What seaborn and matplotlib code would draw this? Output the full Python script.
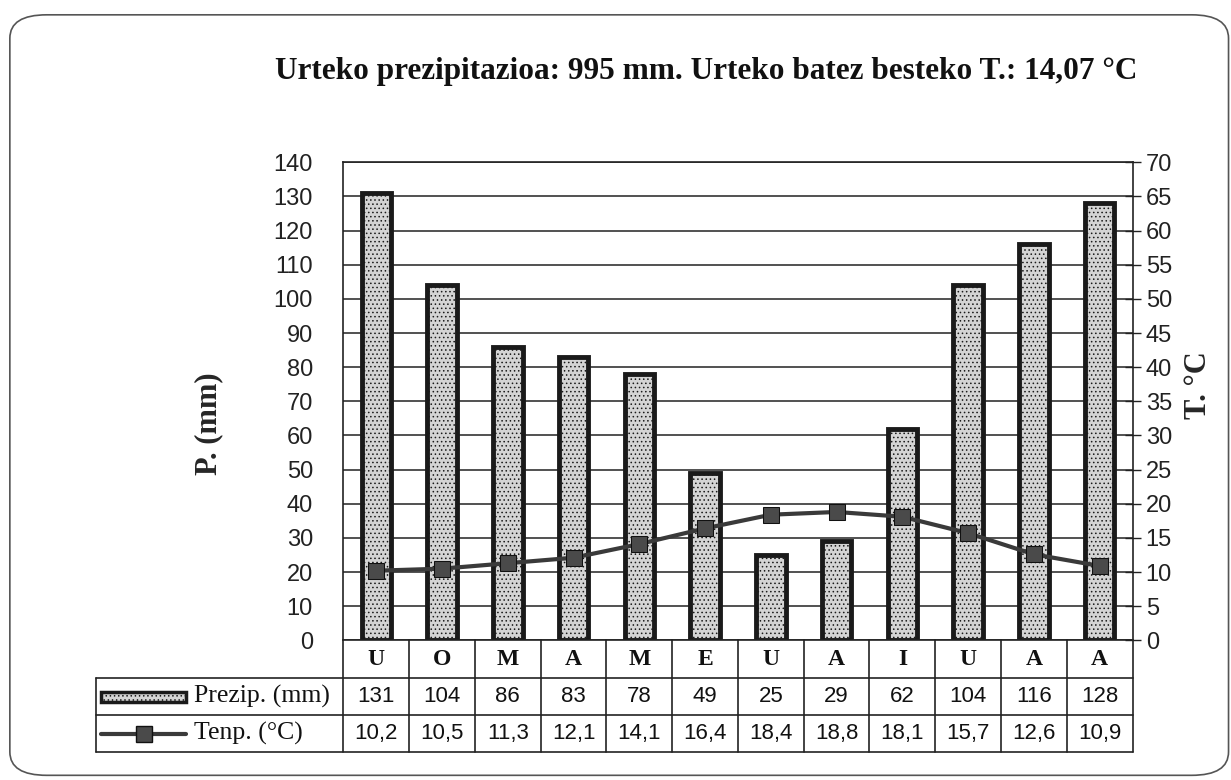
import numpy as np
import pandas as pd
import matplotlib
matplotlib.use("Agg")
import matplotlib.pyplot as plt
from matplotlib.patches import FancyBboxPatch, Rectangle
from matplotlib.lines import Line2D
import seaborn as sns

# Klima-diagrama: hileko prezipitazioa eta tenperatura
months = ["U", "O", "M", "A", "M", "E", "U", "A", "I", "U", "A", "A"]
precip = [131, 104, 86, 83, 78, 49, 25, 29, 62, 104, 116, 128]
temp = [10.2, 10.5, 11.3, 12.1, 14.1, 16.4, 18.4, 18.8, 18.1, 15.7, 12.6, 10.9]
title = "Urteko prezipitazioa: 995 mm. Urteko batez besteko T.: 14,07 °C"

df = pd.DataFrame({"pos": range(len(months)), "month": months,
                   "precip": precip, "temp": temp})

sns.set_theme(style="white")
plt.rcParams["font.family"] = ["Liberation Sans", "DejaVu Sans"]
serif = ["Liberation Serif", "DejaVu Serif"]
plt.rcParams["hatch.linewidth"] = 0.6

fig = plt.figure(figsize=(12.31, 7.80), dpi=100)
fig.patch.set_facecolor("white")

# rounded frame around the page
fig.patches.append(FancyBboxPatch((0.008, 0.006), 0.99, 0.975,
                                  boxstyle="round,pad=0,rounding_size=0.03",
                                  transform=fig.transFigure, fill=False,
                                  edgecolor="#555555", linewidth=1.2))

ax = fig.add_axes([0.279, 0.179, 0.641, 0.613])
sns.barplot(data=df, x="pos", y="precip", ax=ax, width=0.45,
            color="#d4d4d4", edgecolor="#1a1a1a", linewidth=3.5, saturation=1)
for p in ax.patches:
    p.set_hatch("....")
ax.set_xlim(-0.5, len(months) - 0.5)
ax.set_ylim(0, 140)
ax.set_yticks(range(0, 141, 10))
ax.set_xticks([])
ax.set_xlabel("")
ax.set_ylabel("P. (mm)", family=serif, fontsize=22, fontweight="bold")
ax.yaxis.set_label_coords(-0.152, 0.454)
ax.tick_params(axis="y", labelsize=17, length=0, pad=22, labelcolor="#222222")
ax.grid(axis="y", color="#222222", linewidth=1.1)
ax.set_axisbelow(True)
for s in ["left", "top", "right"]:
    ax.spines[s].set_color("#222222")
    ax.spines[s].set_linewidth(1.2)
ax.spines["bottom"].set_visible(False)

ax2 = ax.twinx()
sns.lineplot(data=df, x="pos", y="temp", ax=ax2, color="#3a3a3a", linewidth=3,
             marker="s", markersize=11, markerfacecolor="#4a4a4a",
             markeredgecolor="#111111")
ax2.set_ylim(0, 70)
ax2.set_yticks(range(0, 71, 5))
ax2.set_ylabel("T. °C", family=serif, fontsize=22, fontweight="bold")
ax2.yaxis.set_label_coords(1.065, 0.533)
ax2.set_xlabel("")
ax2.tick_params(axis="y", labelsize=17, direction="inout", length=12, width=1,
                color="#222222", labelcolor="#222222", right=True)
for s in ["left", "top", "right", "bottom"]:
    ax2.spines[s].set_visible(False)

fig.text(0.5735, 0.908, title, family=serif, fontsize=22.5, fontweight="bold",
         ha="center", va="center", color="#111111")

# data table under the plot
row_h = 0.078
x_left = -0.314
tb = ax.get_xaxis_transform()
lc = "#222222"


def hl(x0, x1, y, trans):
    ax.add_line(Line2D([x0, x1], [y, y], transform=trans, color=lc,
                       linewidth=1.2, clip_on=False))


def vl(x, y0, y1, trans):
    ax.add_line(Line2D([x, x], [y0, y1], transform=trans, color=lc,
                       linewidth=1.2, clip_on=False))


hl(0, 1, 0, ax.transAxes)
hl(x_left, 1, -row_h, ax.transAxes)
hl(x_left, 1, -2 * row_h, ax.transAxes)
hl(x_left, 1, -3 * row_h, ax.transAxes)
vl(x_left, -row_h, -3 * row_h, ax.transAxes)
for i in range(len(months) + 1):
    vl(i - 0.5, 0, -3 * row_h, tb)

for i, (m, pv, tv) in enumerate(zip(months, precip, temp)):
    ax.text(i, -0.5 * row_h, m, transform=tb, ha="center", va="center",
            family=serif, fontsize=17, fontweight="bold", color="#111111")
    ax.text(i, -1.5 * row_h, str(pv), transform=tb, ha="center", va="center",
            fontsize=16, color="#111111")
    ax.text(i, -2.5 * row_h, f"{tv:.1f}".replace(".", ","), transform=tb,
            ha="center", va="center", fontsize=16, color="#111111")

# legend swatches in the row-label cells
ax.add_patch(Rectangle((-0.307, -1.64 * row_h), 0.108, 0.26 * row_h,
                       transform=ax.transAxes, facecolor="#d4d4d4",
                       edgecolor="#1a1a1a", linewidth=2.5, hatch="....",
                       clip_on=False))
ax.text(-0.19, -1.5 * row_h, "Prezip. (mm)", transform=ax.transAxes,
        ha="left", va="center", family=serif, fontsize=18.5, color="#111111")
ax.add_line(Line2D([-0.307, -0.199], [-2.5 * row_h, -2.5 * row_h],
                   transform=ax.transAxes, color="#3a3a3a", linewidth=3,
                   clip_on=False))
ax.add_line(Line2D([-0.253], [-2.5 * row_h], transform=ax.transAxes,
                   marker="s", markersize=11, markerfacecolor="#4a4a4a",
                   markeredgecolor="#111111", clip_on=False))
ax.text(-0.19, -2.5 * row_h, "Tenp. (°C)", transform=ax.transAxes,
        ha="left", va="center", family=serif, fontsize=18.5, color="#111111")

fig.savefig("out.png", dpi=100)
